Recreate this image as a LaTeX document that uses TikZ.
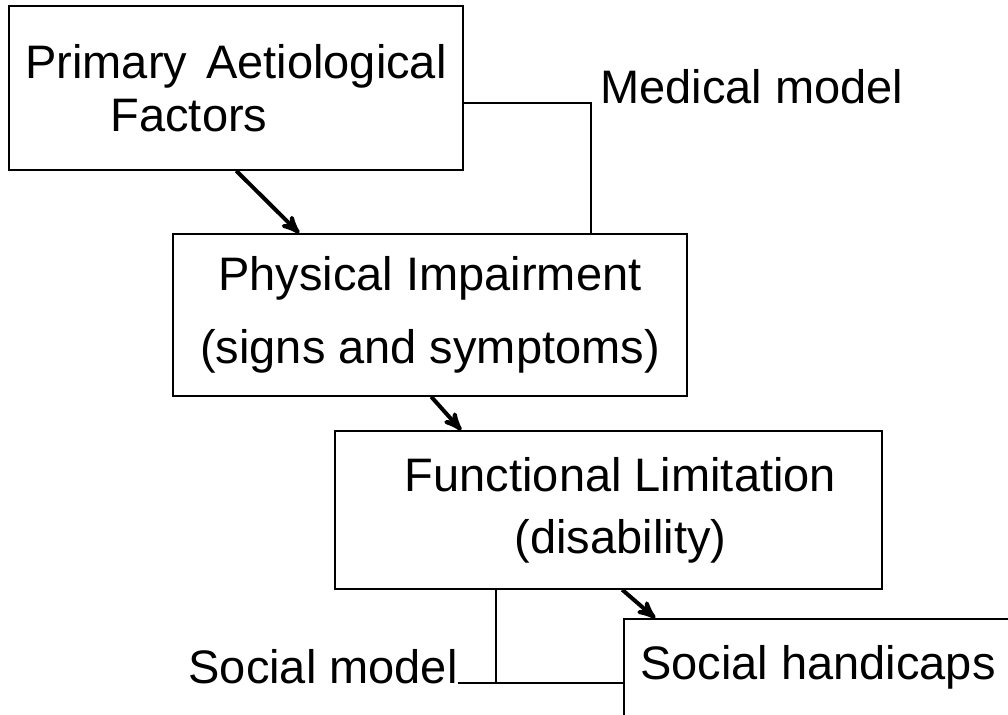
\documentclass[tikz,border=0pt]{standalone}
\usepackage{fontspec}
\setmainfont{Liberation Sans}
\usetikzlibrary{arrows}

\begin{document}
\begin{tikzpicture}[x=0.5pt,y=-0.5pt,>=stealth',
		box/.style={draw,rectangle,line width=0.75pt,inner sep=0pt,align=center,
			font=\fontsize{23.5}{26.5}\selectfont},
		lbl/.style={inner sep=0pt,font=\fontsize{23.5}{26.5}\selectfont},
		link/.style={line width=0.75pt},
		flow/.style={->,line width=2pt}]
	\useasboundingbox (0,0) rectangle (1008,714);

	\node[box,minimum width=227pt,minimum height=82pt] (A) at (236,88) {Primary\hspace{3pt} Aetiological\\Factors\hspace*{47pt}};
	\node[box,minimum width=257pt,minimum height=81pt] (B) at (430,315) {Physical Impairment\\[10pt](signs and symptoms)};
	\node[box,minimum width=273.5pt,minimum height=79pt] (C) at (608.5,510) {\hspace*{12pt}Functional Limitation\\[4.5pt]\hspace*{12pt}(disability)};
	\node[box,minimum width=194pt,minimum height=48.5pt] (D) at (818,667.5) {Social handicaps};

	% the two models
	\coordinate (medturn) at (591,103);
	\node[lbl,anchor=base west] (medical) at ([xshift=4.5pt]medturn) {Medical model};
	\draw[link] (A.east |- medturn) -- (medturn) -- (medturn |- B.north);

	\coordinate (socturn) at (496,683);
	\node[lbl,anchor=base east] (social) at (458,683) {Social model};
	\draw[link] (socturn |- C.south) -- (socturn);
	\draw[link] (social.base east) -- (socturn) -- (socturn -| D.west);

	\path
	([xshift=114pt]A.south west) edge[flow] ([xshift=63.5pt]B.north west)
	([xshift=129.5pt]B.south west) edge[flow] ([xshift=63.5pt]C.north west)
	([xshift=144pt]C.south west) edge[flow] ([xshift=16pt]D.north west);
\end{tikzpicture}
\end{document}
